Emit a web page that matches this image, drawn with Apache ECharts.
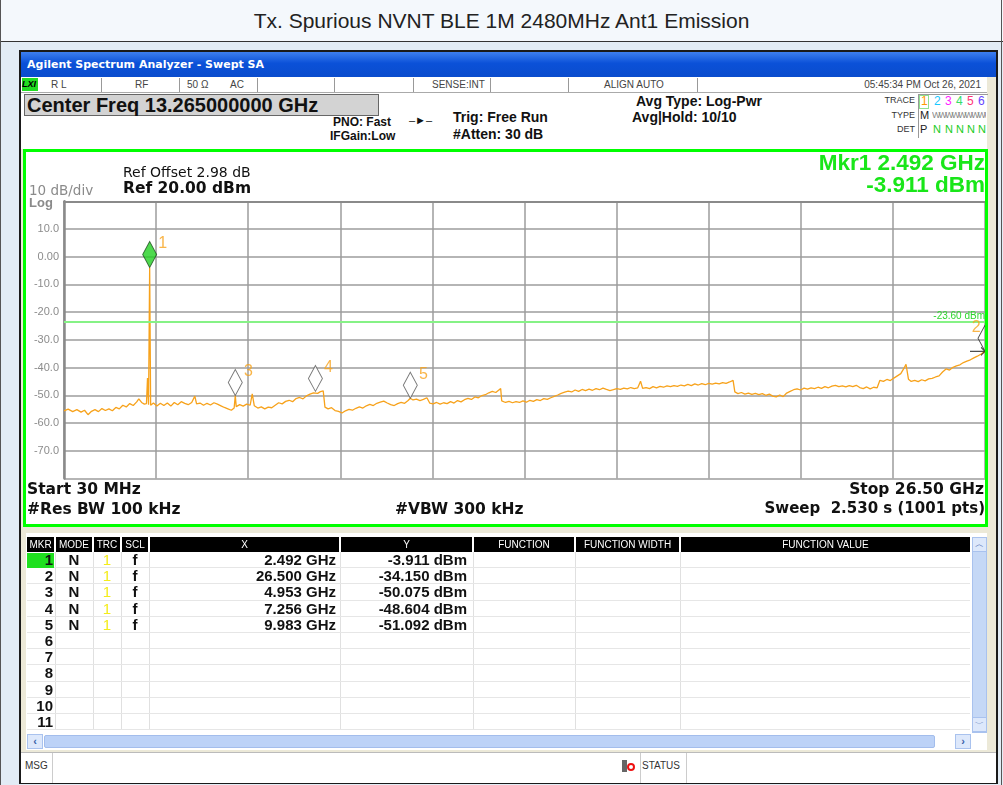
<!doctype html>
<html lang="en">
<head>
<meta charset="utf-8" />
<title>Tx. Spurious NVNT BLE 1M 2480MHz Ant1 Emission</title>
<script src="https://cdn.jsdelivr.net/npm/echarts@6/dist/echarts.min.js"></script>
<style>
    body { margin:0; width:1003px; height:785px; overflow:hidden; position:relative;
           background:#e2ecf5; font-family:"Liberation Sans", Arial, sans-serif; }
    div { position:absolute; box-sizing:border-box; }
    .t { white-space:nowrap; }
    .st { font-size:10px; color:#444; top:77px; line-height:15px; }
    .b14 { font-size:14px; font-weight:bold; color:#111; }
    .sm { font-size:9px; color:#333; }
    .hd { background:#000; color:#fff; font-size:10px; text-align:center; line-height:15px; top:537px; height:15px; }
    .cell { font-size:15px; font-weight:bold; color:#111; line-height:16px; white-space:nowrap; }
</style>
</head>
<body>
<!-- page title -->
<div style="left:0;top:0;width:1003px;height:42px;background:#f4f8fc;border-bottom:1px solid #333;"></div>
<div class="t" style="left:0;top:0;width:1003px;line-height:41px;text-align:center;font-size:21px;color:#222;">Tx. Spurious NVNT BLE 1M 2480MHz Ant1 Emission</div>
<div style="left:0;top:0;width:1px;height:785px;background:#555;"></div>
<div style="left:1001px;top:0;width:1px;height:785px;background:#555;"></div>

<!-- instrument window -->
<div style="left:19px;top:50px;width:979px;height:734px;background:#ece9d8;border:2px solid #1a1a1a;"></div>
<div style="left:21px;top:52px;width:975px;height:25px;background:linear-gradient(#3d7ff0,#0b51d8 45%,#0a4ccd);"></div>
<div class="t" style="left:27px;top:52px;line-height:25px;font-family:'DejaVu Sans';font-size:11px;font-weight:bold;color:#fff;">Agilent Spectrum Analyzer - Swept SA</div>

<!-- status row -->
<div style="left:21px;top:77px;width:966px;height:16px;background:#fff;border-bottom:1px solid #aaa;"></div>
<div style="left:22px;top:78px;width:16px;height:13px;background:#22dd22;"></div>
<div class="t" style="left:22px;top:77px;line-height:15px;font-size:9px;font-weight:bold;font-style:italic;color:#000;">LXI</div>
<div class="t st" style="left:51px;">R L</div>
<div class="t st" style="left:135px;">RF</div>
<div class="t st" style="left:187px;">50 Ω</div>
<div class="t st" style="left:230px;">AC</div>
<div class="t st" style="left:432px;">SENSE:INT</div>
<div class="t st" style="left:604px;">ALIGN AUTO</div>
<div class="t st" style="left:780px;width:201px;text-align:right;">05:45:34 PM Oct 26, 2021</div>
<div style="left:101px;top:78px;width:1px;height:14px;background:#999;"></div>
<div style="left:179px;top:78px;width:1px;height:14px;background:#999;"></div>
<div style="left:257px;top:78px;width:1px;height:14px;background:#999;"></div>
<div style="left:334px;top:78px;width:1px;height:14px;background:#999;"></div>
<div style="left:413px;top:78px;width:1px;height:14px;background:#999;"></div>
<div style="left:490px;top:78px;width:1px;height:14px;background:#999;"></div>
<div style="left:568px;top:78px;width:1px;height:14px;background:#999;"></div>
<div style="left:697px;top:78px;width:1px;height:14px;background:#999;"></div>

<!-- settings area -->
<div style="left:21px;top:93px;width:966px;height:56px;background:#fff;"></div>
<div class="t" style="left:24px;top:94px;width:355px;height:22px;background:#d3d3d3;border:1px solid #666;font-size:20px;font-weight:bold;line-height:20px;padding-left:2px;color:#111;">Center Freq 13.265000000 GHz</div>
<div class="t" style="left:333px;top:115px;font-size:12px;font-weight:bold;color:#111;">PNO: Fast</div>
<div class="t" style="left:330px;top:129px;font-size:12px;font-weight:bold;color:#111;">IFGain:Low</div>
<div class="t" style="left:409px;top:114px;font-size:11px;color:#111;">–►–</div>
<div class="t b14" style="left:453px;top:109px;">Trig: Free Run</div>
<div class="t b14" style="left:453px;top:126px;">#Atten: 30 dB</div>
<div class="t b14" style="left:636px;top:93px;">Avg Type: Log-Pwr</div>
<div class="t b14" style="left:632px;top:109px;">Avg|Hold: 10/10</div>
<div class="t sm" style="left:860px;top:95px;width:55px;text-align:right;">TRACE</div>
<div class="t sm" style="left:860px;top:110px;width:55px;text-align:right;">TYPE</div>
<div class="t sm" style="left:860px;top:124px;width:55px;text-align:right;">DET</div>
<div style="left:918px;top:94px;width:70px;height:44px;border-left:1px solid #999;border-top:1px solid #999;"></div>
<div style="left:919px;top:95px;width:10px;height:14px;border:1px solid #8fe08f;"></div>
<div class="t" style="left:921px;top:94px;font-size:12px;color:#ff9a00;">1</div>
<div class="t" style="left:934px;top:94px;font-size:12px;color:#18c8ff;">2</div>
<div class="t" style="left:945px;top:94px;font-size:12px;color:#ff22ff;">3</div>
<div class="t" style="left:956px;top:94px;font-size:12px;color:#33dd66;">4</div>
<div class="t" style="left:967px;top:94px;font-size:12px;color:#ff3377;">5</div>
<div class="t" style="left:978px;top:94px;font-size:12px;color:#6644ff;">6</div>
<div class="t" style="left:920px;top:109px;font-size:11px;color:#222;">M</div>
<div style="left:932px;top:110px;width:54px;height:12px;overflow:hidden;font-size:9px;color:#888;letter-spacing:-2px;white-space:nowrap;">WWWWWWWWWW</div>
<div class="t" style="left:920px;top:123px;font-size:11px;color:#222;">P</div>
<div class="t" style="left:933px;top:123px;font-size:11px;color:#22cc22;">N</div>
<div class="t" style="left:945px;top:123px;font-size:11px;color:#22cc22;">N</div>
<div class="t" style="left:956px;top:123px;font-size:11px;color:#22cc22;">N</div>
<div class="t" style="left:967px;top:123px;font-size:11px;color:#22cc22;">N</div>
<div class="t" style="left:978px;top:123px;font-size:11px;color:#22cc22;">N</div>

<!-- plot panel (white), chart on top, green frame over both -->
<div style="left:23px;top:149px;width:965px;height:378px;background:#fff;"></div>
<div id="chart" style="left:0;top:0;width:1003px;height:785px;z-index:1;"></div>
<div style="left:23px;top:149px;width:965px;height:378px;border:3px solid #00ff00;z-index:2;"></div>

<!-- marker table -->
<div style="left:26px;top:533px;width:961px;height:217px;background:#fff;"></div>
<div id="table" style="left:0;top:0;width:1003px;height:785px;z-index:3;"></div>
<div style="left:972px;top:537px;width:15px;height:196px;background:#c5d8f6;border:1px solid #a9c2ee;z-index:4;"></div>
<div class="t" style="left:972px;top:537px;width:15px;height:15px;background:#dde8fb;border:1px solid #a9c2ee;font-size:9px;text-align:center;line-height:13px;color:#4a6db0;z-index:5;">︿</div>
<div class="t" style="left:972px;top:717px;width:15px;height:15px;background:#dde8fb;border:1px solid #a9c2ee;font-size:9px;text-align:center;line-height:13px;color:#4a6db0;z-index:5;">﹀</div>
<div style="left:27px;top:734px;width:943px;height:15px;background:#fff;z-index:4;"></div>
<div style="left:44px;top:735px;width:891px;height:13px;background:#bcd2f7;border:1px solid #a3bdec;border-radius:2px;z-index:5;"></div>
<div class="t" style="left:27px;top:734px;width:16px;height:15px;background:#dde8fb;border:1px solid #a9c2ee;font-size:11px;text-align:center;line-height:13px;color:#3a5fa8;font-weight:bold;z-index:5;">‹</div>
<div class="t" style="left:955px;top:734px;width:16px;height:15px;background:#dde8fb;border:1px solid #a9c2ee;font-size:11px;text-align:center;line-height:13px;color:#3a5fa8;font-weight:bold;z-index:5;">›</div>

<!-- message bar -->
<div style="left:21px;top:752px;width:975px;height:31px;background:#fff;border-top:1px solid #bbb;"></div>
<div class="t" style="left:25px;top:760px;font-size:10px;color:#333;">MSG</div>
<div style="left:52px;top:753px;width:1px;height:30px;background:#ccc;"></div>
<div style="left:622px;top:760px;width:5px;height:12px;background:#666;"></div>
<div style="left:627px;top:763px;width:8px;height:8px;border-radius:50%;border:2px solid #e11;"></div>
<div style="left:640px;top:753px;width:1px;height:30px;background:#ccc;"></div>
<div class="t" style="left:642px;top:760px;font-size:10px;color:#333;">STATUS</div>
<div style="left:686px;top:753px;width:1px;height:30px;background:#ccc;"></div>

<script>
    // trace 1 (GHz / dBm)
    var freqGHz = [
        0.03, 0.15, 0.28, 0.40, 0.52, 0.62, 0.72, 0.82, 0.92, 1.02, 1.12, 1.22, 1.32, 1.42, 1.52, 1.62,
        1.72, 1.82, 1.92, 2.02, 2.12, 2.18, 2.26, 2.34, 2.40, 2.43, 2.46, 2.492, 2.52, 2.60, 2.70, 2.80,
        2.90, 3.00, 3.10, 3.20, 3.30, 3.40, 3.50, 3.60, 3.70, 3.79, 3.84, 3.94, 4.04, 4.14, 4.24, 4.34,
        4.44, 4.54, 4.64, 4.74, 4.84, 4.92, 4.953, 4.98, 5.08, 5.18, 5.28, 5.38, 5.44, 5.50, 5.60, 5.70,
        5.80, 5.90, 6.00, 6.10, 6.20, 6.30, 6.40, 6.50, 6.60, 6.70, 6.80, 6.90, 7.00, 7.10, 7.20, 7.256,
        7.32, 7.40, 7.48, 7.53, 7.62, 7.72, 7.82, 7.92, 8.02, 8.12, 8.22, 8.32, 8.42, 8.52, 8.62, 8.72,
        8.82, 8.92, 9.02, 9.12, 9.22, 9.32, 9.42, 9.52, 9.62, 9.72, 9.82, 9.92, 9.983, 10.06, 10.16, 10.26,
        10.36, 10.46, 10.54, 10.64, 10.74, 10.84, 10.94, 11.04, 11.14, 11.24, 11.34, 11.44, 11.54, 11.64, 11.74, 11.84,
        11.94, 12.04, 12.14, 12.24, 12.34, 12.44, 12.52, 12.58, 12.61, 12.72, 12.82, 12.92, 13.02, 13.12, 13.22, 13.32,
        13.42, 13.52, 13.62, 13.72, 13.82, 13.92, 14.02, 14.12, 14.22, 14.32, 14.42, 14.52, 14.62, 14.72, 14.82, 14.92,
        15.02, 15.12, 15.22, 15.32, 15.42, 15.52, 15.62, 15.72, 15.82, 15.92, 16.02, 16.12, 16.22, 16.32, 16.42, 16.52,
        16.60, 16.66, 16.76, 16.86, 16.96, 17.06, 17.16, 17.26, 17.36, 17.46, 17.56, 17.66, 17.76, 17.86, 17.96, 18.06,
        18.16, 18.26, 18.36, 18.46, 18.56, 18.66, 18.76, 18.86, 18.96, 19.06, 19.16, 19.26, 19.31, 19.40, 19.50, 19.60,
        19.70, 19.80, 19.90, 20.00, 20.10, 20.20, 20.30, 20.40, 20.50, 20.60, 20.70, 20.80, 20.90, 21.00, 21.10, 21.20,
        21.30, 21.40, 21.50, 21.60, 21.70, 21.80, 21.90, 22.00, 22.10, 22.20, 22.30, 22.40, 22.50, 22.60, 22.70, 22.80,
        22.90, 23.00, 23.10, 23.20, 23.30, 23.40, 23.48, 23.58, 23.68, 23.78, 23.88, 23.98, 24.08, 24.16, 24.23, 24.30,
        24.38, 24.48, 24.58, 24.68, 24.78, 24.88, 24.98, 25.08, 25.18, 25.28, 25.38, 25.48, 25.58, 25.68, 25.78, 25.88,
        25.98, 26.08, 26.18, 26.28, 26.38, 26.50
    ];
    var levelDbm = [
        -55.6, -55.0, -55.9, -55.2, -56.1, -55.4, -57.0, -55.8, -55.2, -55.9, -54.8, -55.5, -54.9, -55.6, -54.4, -54.9,
        -53.6, -54.2, -53.0, -53.7, -52.4, -51.3, -52.6, -53.2, -53.0, -43.8, -53.4, -3.911, -53.6, -52.8, -53.9, -52.9,
        -53.7, -52.8, -53.9, -52.6, -53.4, -52.3, -52.9, -53.4, -52.6, -50.3, -53.1, -52.8, -53.6, -52.9, -53.5, -52.7,
        -53.2, -53.8, -54.4, -54.9, -55.4, -54.6, -50.075, -54.1, -53.4, -53.9, -53.2, -53.6, -49.5, -53.8, -54.6, -54.2,
        -54.9, -54.3, -54.5, -53.6, -52.7, -53.1, -52.2, -51.8, -52.3, -51.2, -50.8, -51.3, -50.2, -49.6, -49.1, -48.604,
        -49.3, -48.7, -48.4, -54.3, -54.9, -54.5, -55.5, -55.8, -56.4, -55.6, -55.1, -55.4, -54.7, -54.2, -54.6, -53.8,
        -53.3, -53.7, -52.9, -52.5, -52.1, -52.8, -53.4, -53.7, -53.0, -52.6, -52.9, -51.9, -51.092, -51.7, -51.4, -51.9,
        -51.5, -50.9, -52.8, -53.1, -52.6, -53.2, -52.7, -53.0, -52.3, -52.8, -51.9, -52.4, -51.6, -51.1, -51.5, -50.6,
        -50.9, -50.1, -49.8, -49.1, -48.6, -49.0, -48.2, -47.6, -52.0, -52.6, -52.2, -52.7, -52.3, -52.6, -52.0, -52.5,
        -51.8, -52.2, -51.6, -51.9, -51.2, -51.5, -50.9, -50.4, -49.9, -49.3, -48.9, -48.5, -48.8, -48.1, -48.6, -47.9,
        -48.3, -47.8, -48.2, -47.6, -48.0, -47.4, -47.9, -48.3, -48.0, -47.6, -47.9, -47.4, -47.7, -47.2, -47.6, -47.3,
        -44.9, -47.5, -47.2, -47.6, -46.9, -47.3, -46.8, -47.1, -46.6, -46.9, -46.5, -46.8, -46.3, -46.6, -46.1, -46.5,
        -45.9, -46.3, -45.8, -46.2, -45.7, -46.0, -45.6, -45.9, -45.4, -45.7, -45.2, -44.6, -48.8, -49.4, -49.0, -49.6,
        -49.2, -49.7, -49.3, -49.8, -49.4, -50.0, -49.6, -50.3, -50.6, -49.9, -50.5, -49.2, -48.6, -48.0, -47.7, -48.1,
        -47.4, -47.8, -47.3, -47.6, -47.1, -47.5, -46.9, -47.3, -46.7, -46.4, -46.9, -46.6, -47.0, -46.5, -46.9, -46.4,
        -47.2, -47.6, -47.0, -47.7, -47.1, -47.3, -44.6, -45.0, -44.3, -44.7, -43.8, -43.0, -42.2, -40.5, -38.8, -44.2,
        -45.0, -44.6, -45.1, -44.4, -44.8, -44.1, -43.9, -43.4, -43.0, -41.6, -40.5, -40.9, -39.9, -39.4, -39.0, -38.2,
        -37.7, -37.2, -36.5, -35.9, -35.2, -34.15
    ];

    // marker table values
    var markerNo = ['1', '2', '3', '4', '5'];
    var markerGHz = [2.492, 26.500, 4.953, 7.256, 9.983];
    var markerDbm = [-3.911, -34.150, -50.075, -48.604, -51.092];

    var displayLineDbm = -23.60;
    var refLevel = 20;
    var bottomLevel = -80;
    var startGHz = 0.03;
    var stopGHz = 26.5;

    var traceData = [];
    for (var i = 0; i < freqGHz.length; i++) {
        traceData.push([freqGHz[i], levelDbm[i]]);
    }

    var diamondData = [];
    var edgeData = [];
    for (var m = 0; m < markerNo.length; m++) {
        var item = { name: markerNo[m], value: [markerGHz[m], markerDbm[m]] };
        if (m === 0) {
            item.itemStyle = { color: '#22d022', borderColor: '#1d4d1d' };
        }
        if (markerGHz[m] >= stopGHz) {
            edgeData.push(item);
        } else {
            diamondData.push(item);
        }
    }

    var chart = echarts.init(document.getElementById('chart'), null, { renderer: 'canvas' });

    var boldFont = 'bold 15.5px "DejaVu Sans"';

    var option = {
        animation: false,
        grid: { left: 64, top: 201.3, right: 18, bottom: 306.6 },
        xAxis: [{
            type: 'value', min: startGHz, max: stopGHz, show: false
        }, {
            // ten divisions, only for the graticule
            type: 'value', min: 0, max: 10, interval: 1, position: 'top',
            axisLabel: { show: false }, axisTick: { show: false },
            axisLine: { show: true, lineStyle: { color: '#8a8a8a', width: 2 } },
            splitLine: { show: true, lineStyle: { color: '#9c9c9c', width: 1.5 } }
        }],
        yAxis: {
            type: 'value', min: bottomLevel, max: refLevel, interval: 10,
            axisTick: { show: false },
            axisLine: { show: true, lineStyle: { color: '#8a8a8a', width: 2.5 } },
            axisLabel: {
                color: '#8c8c8c', fontSize: 11, margin: 5, fontFamily: 'Liberation Sans',
                formatter: function (v) {
                    if (v === refLevel || v === bottomLevel) return '';
                    if (v === 0) return '0.00';
                    return v.toFixed(1);
                }
            },
            splitLine: { lineStyle: { color: '#9c9c9c', width: 1.5 } }
        },
        series: [{
            type: 'line', xAxisIndex: 0, data: traceData, symbol: 'none', z: 3,
            lineStyle: { color: '#f7a21b', width: 1.3 },
            markLine: {
                silent: true, symbol: 'none',
                lineStyle: { color: '#86f286', width: 2, type: 'solid' },
                label: {
                    position: 'insideEndTop', formatter: '-23.60 dBm', color: '#2fd62f',
                    fontSize: 10, fontFamily: 'Liberation Sans', distance: [0, 1]
                },
                data: [{ yAxis: displayLineDbm }]
            }
        }, {
            type: 'scatter', xAxisIndex: 0, data: diamondData, z: 5,
            symbol: 'diamond', symbolSize: [14, 26], symbolOffset: [0, -13],
            itemStyle: { color: '#ffffff', borderColor: '#555555', borderWidth: 1 },
            label: {
                show: true, position: [16, -5], formatter: '{b}',
                color: '#f7a21b', fontSize: 16, fontFamily: 'Liberation Sans'
            }
        }, {
            // marker 2 sits on the right edge: half diamond and an arrow
            type: 'scatter', xAxisIndex: 0, data: edgeData, z: 5,
            symbol: 'path://M7,0 L0,13 L7,26 M-8,26 L7,26 M3,22 L7,26 L3,30',
            symbolSize: [15, 30], symbolOffset: [-7.5, -11],
            itemStyle: { color: 'rgba(0,0,0,0)', borderColor: '#222', borderWidth: 1 },
            label: {
                show: true, position: [2, -5], formatter: '{b}',
                color: '#f7a21b', fontSize: 16, fontFamily: 'Liberation Sans'
            }
        }],
        graphic: [
            { type: 'text', left: 123, top: 166, style: { text: 'Ref Offset 2.98 dB', font: '14px "DejaVu Sans"', fill: '#111' } },
            { type: 'text', left: 123, top: 181, style: { text: 'Ref 20.00 dBm', font: boldFont, fill: '#111' } },
            { type: 'text', left: 29, top: 184, style: { text: '10 dB/div', font: '13.5px "DejaVu Sans"', fill: '#8a8a8a' } },
            { type: 'text', left: 29, top: 197, style: { text: 'Log', font: 'bold 13px "Liberation Sans"', fill: '#8a8a8a' } },
            { type: 'text', right: 18, top: 152, style: { text: 'Mkr1 2.492 GHz', font: 'bold 22.5px "Liberation Sans"', fill: '#19e619' } },
            { type: 'text', right: 18, top: 174, style: { text: '-3.911 dBm', font: 'bold 22.5px "Liberation Sans"', fill: '#19e619' } },
            { type: 'text', left: 27, top: 482, style: { text: 'Start 30 MHz', font: boldFont, fill: '#111' } },
            { type: 'text', left: 27, top: 502, style: { text: '#Res BW 100 kHz', font: boldFont, fill: '#111' } },
            { type: 'text', left: 395, top: 502, style: { text: '#VBW 300 kHz', font: boldFont, fill: '#111' } },
            { type: 'text', right: 19, top: 482, style: { text: 'Stop 26.50 GHz', font: boldFont, fill: '#111' } },
            { type: 'text', right: 18, top: 502, style: { text: 'Sweep  2.530 s (1001 pts)', font: 'bold 15px "DejaVu Sans"', fill: '#111' } }
        ]
    };
    chart.setOption(option);

    // marker table, built from the marker arrays
    var cols = [[27, 54], [56, 92], [94, 120], [122, 148], [150, 339], [341, 472], [474, 574], [576, 679], [681, 970]];
    var heads = ['MKR', 'MODE', 'TRC', 'SCL', 'X', 'Y', 'FUNCTION', 'FUNCTION WIDTH', 'FUNCTION VALUE'];
    var rowTop = 552, rowH = 16.2, rowCount = 11;
    var html = '';
    for (var c = 0; c < cols.length; c++) {
        html += '<div class="hd t" style="left:' + cols[c][0] + 'px;width:' + (cols[c][1] - cols[c][0]) + 'px;">' + heads[c] + '</div>';
        if (c > 0) {
            html += '<div style="left:' + (cols[c][0] - 1) + 'px;top:552px;width:1px;height:' + (rowH * rowCount) + 'px;background:#e0e0e0;"></div>';
        }
    }
    for (var r = 0; r < rowCount; r++) {
        var y = rowTop + r * rowH;
        html += '<div style="left:27px;top:' + (y + rowH - 1) + 'px;width:943px;height:1px;background:#e6e6e6;"></div>';
        if (r === 0) {
            html += '<div style="left:27px;top:' + (y + 1) + 'px;width:27px;height:15px;background:#1fe01f;"></div>';
        }
        html += '<div class="cell" style="left:27px;top:' + y + 'px;width:26px;text-align:right;">' + (r + 1) + '</div>';
        if (r < markerNo.length) {
            html += '<div class="cell" style="left:56px;top:' + y + 'px;width:36px;text-align:center;">N</div>';
            html += '<div class="cell" style="left:94px;top:' + y + 'px;width:26px;text-align:center;color:#f4ec1a;font-weight:normal;">1</div>';
            html += '<div class="cell" style="left:122px;top:' + y + 'px;width:26px;text-align:center;">f</div>';
            html += '<div class="cell" style="left:150px;top:' + y + 'px;width:186px;text-align:right;">' + markerGHz[r].toFixed(3) + ' GHz</div>';
            html += '<div class="cell" style="left:341px;top:' + y + 'px;width:126px;text-align:right;">' + markerDbm[r].toFixed(3) + ' dBm</div>';
        }
    }
    document.getElementById('table').innerHTML = html;
</script>
</body>
</html>
